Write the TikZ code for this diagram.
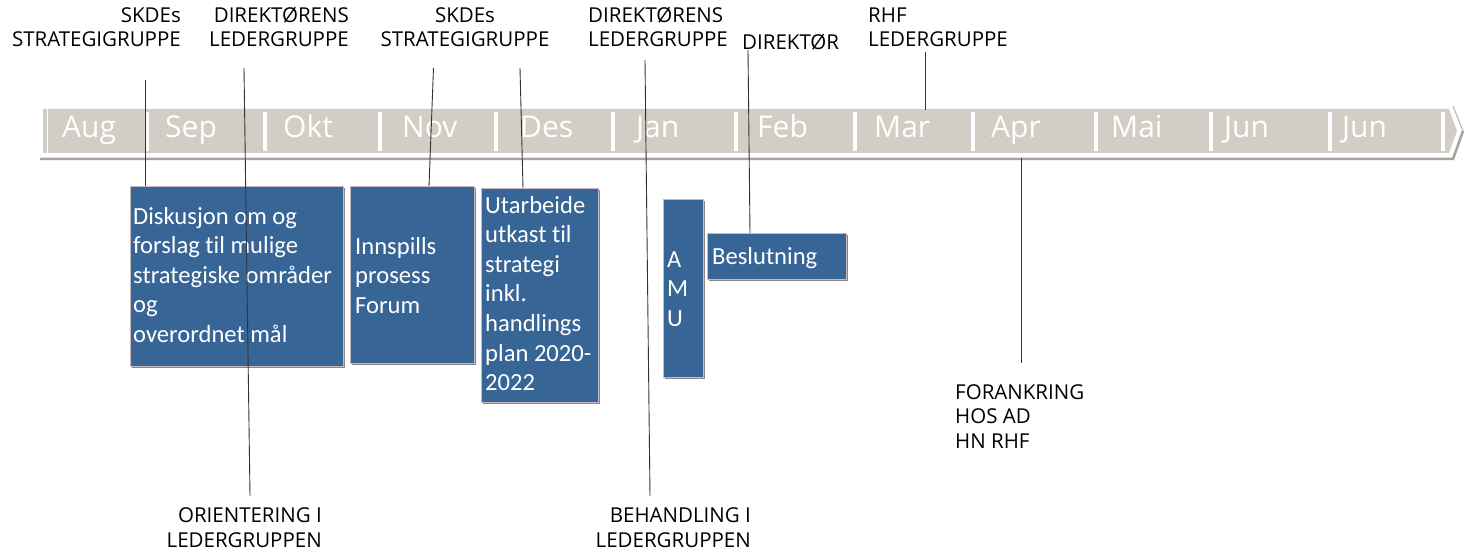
\documentclass[tikz,border=0pt]{standalone}
\usepackage{fontspec}
\setmainfont{Open Sans}
\newfontfamily\boxfont[Ligatures=NoCommon]{Carlito}
\usetikzlibrary{shadows}
\definecolor{barfill}{HTML}{D3CEC5}
\definecolor{boxblue}{HTML}{376596}
\definecolor{shadowc}{HTML}{8E8485}
\definecolor{edgec}{HTML}{C4BCBF}
\definecolor{baseln}{HTML}{A3A3A3}
\begin{document}
\begin{tikzpicture}[x=1pt,y=-1pt,
  lbl/.style={font=\fontsize{20.5}{24.5}\selectfont, inner sep=0pt, text=black},
  month/.style={font=\fontsize{30}{32}\selectfont, text=white, inner sep=0pt, anchor=base west},
  boxtext/.style={font=\boxfont\fontsize{24.6}{29.6}\selectfont, text=white, inner sep=0pt, anchor=base west, align=left},
  conn/.style={draw=black!80, line width=0.9pt},
  tbox/.style={fill=boxblue, draw=edgec, line width=0.8pt, anchor=north west, inner sep=0pt,
    drop shadow={shadow xshift=2pt, shadow yshift=-2pt, fill=shadowc, opacity=1}},
  sepbar/.style={draw=white, line width=4pt}]
\useasboundingbox (0,0) rectangle (1473,556);

% timeline bar
\fill[barfill] (43,109) -- (1449,109) -- (1457,131) -- (1449,153) -- (43,153) -- cycle;
\draw[white, line width=1.5pt] (47.5,109) -- (47.5,153);
\draw[baseln, line width=2.5pt] (40,159) -- (1453,159) -- (1463,131);
\draw[black!30, line width=1pt] (1463,131) -- (1453,106);
\draw[white, line width=3pt] (147.5,112) -- (147.5,151);
\foreach \sx in {264.5,379.5,496,613,736,854.5,972.5,1095.5,1211,1329.5,1443}
  \draw[sepbar] (\sx,112) -- (\sx,151);

% months
\node[month] (m1) at (62,138) {Aug};
\node[month] (m2) at (165,138) {Sep};
\node[month] (m3) at (283,138) {Okt};
\node[month] (m4) at (402,138) {Nov};
\node[month] (m5) at (520,138) {Des};
\node[month] (m6) at (636,138) {Jan};
\node[month] (m7) at (757,138) {Feb};
\node[month] (m8) at (874,138) {Mar};
\node[month] (m9) at (991,138) {Apr};
\node[month] (m10) at (1111,138) {Mai};
\node[month] (m11) at (1224,138) {Jun};
\node[month] (m12) at (1342,138) {Jun};

% boxes
\node[tbox, minimum width=213pt, minimum height=180pt] (b1) at (130,186) {};
\node[tbox, minimum width=124pt, minimum height=177pt] (b2) at (350,186) {};
\node[tbox, minimum width=117pt, minimum height=214pt] (b3) at (481,188) {};
\node[tbox, minimum width=40pt, minimum height=178pt] (b4) at (663,199) {};
\node[tbox, minimum width=139pt, minimum height=46pt] (b5) at (707,233) {};

% (base anchor = baseline of the last line)
\node[boxtext] (t1) at (133,342.4) {Diskusjon om og\\forslag til mulige\\strategiske områder\\og\\overordnet mål};
\node[boxtext] (t2) at (355,313.2) {Innspills\\prosess\\Forum};
\node[boxtext] (t3) at (485,390.6) {Utarbeide\\utkast til\\strategi\\inkl.\\handlings\\plan 2020-\\2022};
\node[boxtext] (t4) at (667,326.2) {A\\M\\U};
\node[boxtext] (t5) at (712,265) {Beslutning};

% labels
\node[lbl, align=right, anchor=base east] (l1) at (181,47) {SKDEs\\STRATEGIGRUPPE};
\node[lbl, align=right, anchor=base east] (l2) at (349,47) {DIREKTØRENS\\LEDERGRUPPE};
\node[lbl, align=center, anchor=base] (l3) at (465,47) {SKDEs\\STRATEGIGRUPPE};
\node[lbl, align=left, anchor=base west] (l4) at (588,47) {DIREKTØRENS\\LEDERGRUPPE};
\node[lbl, anchor=base west] (l5) at (742,50) {DIREKTØR};
\node[lbl, align=left, anchor=base west] (l6) at (868,47) {RHF\\LEDERGRUPPE};
\node[lbl, align=right, anchor=base east] (l7) at (322,547) {ORIENTERING I\\LEDERGRUPPEN};
\node[lbl, align=right, anchor=base east] (l8) at (751,547) {BEHANDLING I\\LEDERGRUPPEN};
\node[lbl, align=left, anchor=base west] (l9) at (955,448) {FORANKRING\\HOS AD\\HN RHF};

% connector end points
\coordinate (c1a) at (145,80);   \coordinate (c1b) at (145,186);
\coordinate (c2a) at (244,68);   \coordinate (c2b) at (250,496);
\coordinate (c3a) at (433.5,68); \coordinate (c3b) at (429,186);
\coordinate (c4a) at (520,68);   \coordinate (c4b) at (523,188);
\coordinate (c5a) at (645,60);   \coordinate (c5b) at (650,496);
\coordinate (c6a) at (748,50);   \coordinate (c6b) at (750,233);
\coordinate (c7a) at (925,52);   \coordinate (c7b) at (925,110);
\coordinate (c8a) at (1021,158); \coordinate (c8b) at (1021,363);
\foreach \i in {1,...,8} \draw[conn] (c\i a) -- (c\i b);
\end{tikzpicture}
\end{document}
